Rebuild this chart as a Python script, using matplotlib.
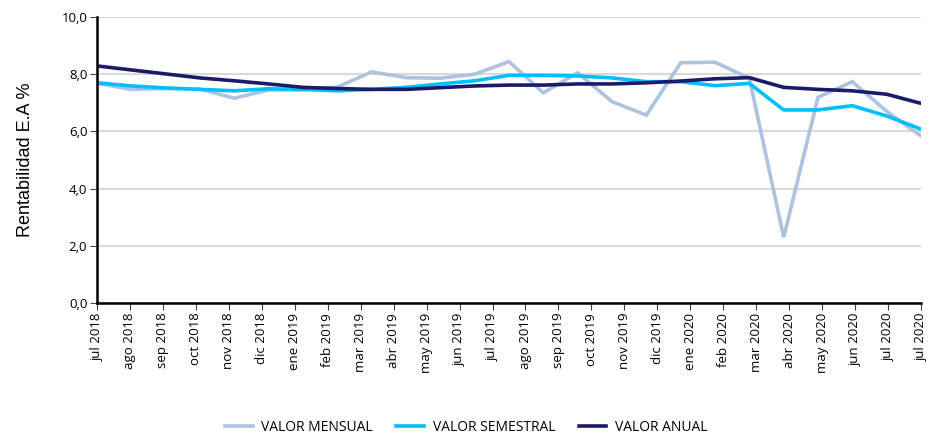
import numpy as np
import matplotlib
matplotlib.use("Agg")
import matplotlib.pyplot as plt

plt.rcParams.update({
    "font.family": "Open Sans",
    "font.size": 9,
})

# tick labels of the date axis (26 labels, last one repeated as in the source)
tick_labels = ['jul 2018', 'ago 2018', 'sep 2018', 'oct 2018', 'nov 2018', 'dic 2018',
               'ene 2019', 'feb 2019', 'mar 2019', 'abr 2019', 'may 2019', 'jun 2019',
               'jul 2019', 'ago 2019', 'sep 2019', 'oct 2019', 'nov 2019', 'dic 2019',
               'ene 2020', 'feb 2020', 'mar 2020', 'abr 2020', 'may 2020', 'jun 2020',
               'jul 2020', 'jul 2020']

# monthly observations jul 2018 .. jul 2020 (25 points)
mensual = [7.68, 7.47, 7.50, 7.48, 7.16, 7.45, 7.45, 7.55, 8.08, 7.88, 7.86, 8.00,
           8.44, 7.35, 8.05, 7.04, 6.57, 8.40, 8.42, 7.86, 2.30, 7.19, 7.74, 6.70, 5.84]
semestral = [7.70, 7.59, 7.52, 7.47, 7.42, 7.49, 7.47, 7.42, 7.47, 7.54, 7.66, 7.77,
             7.96, 7.96, 7.94, 7.87, 7.74, 7.74, 7.60, 7.68, 6.75, 6.75, 6.90, 6.54, 6.08]
anual = [8.29, 8.15, 8.01, 7.87, 7.77, 7.66, 7.54, 7.50, 7.47, 7.47, 7.53, 7.59,
         7.62, 7.62, 7.66, 7.66, 7.70, 7.76, 7.84, 7.88, 7.54, 7.47, 7.42, 7.30, 6.98]

x = np.arange(len(mensual))
tick_pos = np.linspace(0, len(mensual) - 1, len(tick_labels))

fig = plt.figure(figsize=(9.38, 4.34), dpi=100)
ax = fig.add_axes([0.1034, 0.3018, 0.8785, 0.659])

ax.plot(x, mensual, color='#adc3df', lw=2.6, label='VALOR MENSUAL', solid_joinstyle='miter')
ax.plot(x, semestral, color='#00bfff', lw=2.6, label='VALOR SEMESTRAL')
ax.plot(x, anual, color='#1c1a6b', lw=2.6, label='VALOR ANUAL')

ax.set_xlim(0, len(mensual) - 1)
ax.set_ylim(0, 10)
ax.set_yticks(np.arange(0, 10.1, 2))
ax.set_yticklabels([f'{v:.1f}'.replace('.', ',') for v in np.arange(0, 10.1, 2)], fontsize=9.5)
ax.set_xticks(tick_pos)
ax.set_xticklabels(tick_labels, rotation=90, fontsize=9.5)
ax.grid(axis='y', color='#d9d9d9', lw=1.5)
ax.set_axisbelow(True)
for s in ['top', 'right']:
    ax.spines[s].set_visible(False)
for s in ['left', 'bottom']:
    ax.spines[s].set_linewidth(1.8)
    ax.spines[s].set_color('black')
ax.tick_params(axis='both', length=5, width=0.8, color='#444444', pad=2)
ax.set_ylabel('Rentabilidad E.A %', fontsize=13, family='Liberation Sans', labelpad=20)

fig.legend(loc='lower center', bbox_to_anchor=(0.497, -0.03), ncol=3, frameon=False,
           fontsize=10, handlelength=2.0, columnspacing=1.7, handletextpad=0.6)

fig.savefig('out.png', dpi=100)
